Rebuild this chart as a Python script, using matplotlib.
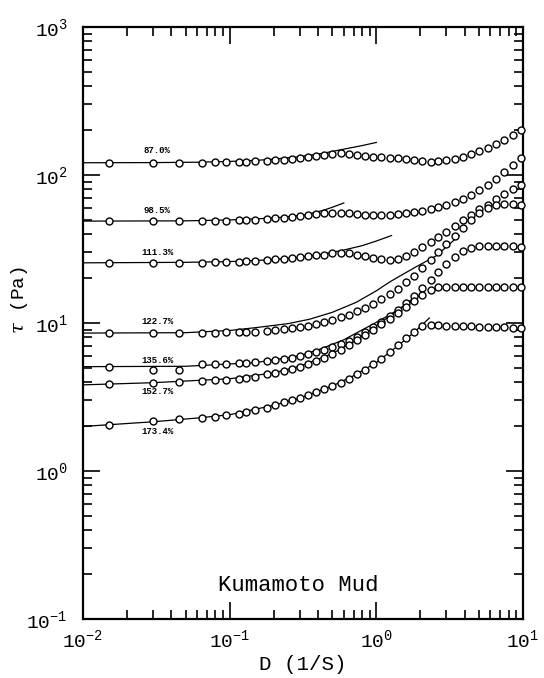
import matplotlib
matplotlib.use("Agg")
import matplotlib.pyplot as plt
from matplotlib.ticker import LogLocator, NullFormatter

# shear rate D (1/s) of the measured points
D = [0.015, 0.03, 0.045, 0.065, 0.08, 0.095, 0.115, 0.13, 0.15, 0.18,
     0.205, 0.235, 0.265, 0.3, 0.34, 0.39, 0.44, 0.5, 0.57, 0.65,
     0.74, 0.84, 0.95, 1.08, 1.23, 1.4, 1.6, 1.8, 2.05, 2.35,
     2.65, 3.0, 3.45, 3.9, 4.45, 5.05, 5.75, 6.55, 7.45, 8.5, 9.7]

# shear stress tau (Pa) for each water content
tau_870 = [121, 121, 121, 121, 122, 122, 122, 123, 124, 125,
           126, 127, 128, 130, 132, 134, 137, 139, 140, 139,
           137, 135, 133, 131.5, 131, 130, 129, 127, 125, 123,
           123.5, 125.5, 128.5, 132.5, 138, 145, 153, 162, 173, 186, 200]
tau_985 = [48.8, 48.8, 48.8, 49, 49, 49.2, 49.5, 49.8, 50, 50.5,
           51, 51.5, 52, 52.5, 53.5, 54.2, 55, 55.5, 55.5, 55,
           54.5, 54, 54, 54, 54, 54.5, 55, 56, 57.5, 59,
           60.5, 62.5, 65.5, 69, 73.5, 79, 86, 94, 104, 117, 131]
tau_1113 = [25.5, 25.5, 25.5, 25.6, 25.7, 25.8, 26, 26.1, 26.3, 26.6,
            26.9, 27.2, 27.5, 27.8, 28.2, 28.6, 29, 29.5, 29.8, 29.6,
            29, 28.3, 27.7, 27.1, 26.7, 27, 28.5, 30.3, 32.8, 35.5,
            38.3, 41.5, 45.5, 49.5, 54, 58.5, 63, 68.5, 74, 80, 86]
tau_1227 = [8.55, 8.55, 8.55, 8.6, 8.6, 8.65, 8.7, 8.7, 8.75, 8.85,
            8.95, 9.05, 9.2, 9.35, 9.55, 9.8, 10.1, 10.5, 10.9, 11.4,
            12, 12.7, 13.5, 14.5, 15.6, 17, 18.8, 20.8, 23.5, 26.8,
            30, 34, 39, 44, 50, 55.5, 60, 63, 64, 64, 63]
tau_1356 = [5.05, 4.85, 4.85, 5.25, 5.3, 5.3, 5.35, 5.4, 5.45, 5.5,
            5.6, 5.7, 5.8, 5.95, 6.15, 6.35, 6.6, 6.9, 7.25, 7.6,
            8.1, 8.7, 9.4, 10.2, 11.1, 12.3, 13.7, 15.2, 17.2, 19.6,
            22.2, 25, 28, 30.5, 32.2, 33, 33.3, 33.3, 33.2, 33, 32.8]
tau_1527 = [3.86, 3.94, 4.0, 4.07, 4.1, 4.15, 4.2, 4.27, 4.35, 4.5,
            4.6, 4.75, 4.9, 5.05, 5.25, 5.5, 5.8, 6.15, 6.6, 7.1,
            7.7, 8.3, 9.0, 9.8, 10.7, 11.7, 12.9, 14.1, 15.5, 16.8,
            17.4, 17.6, 17.6, 17.6, 17.6, 17.6, 17.6, 17.5, 17.5, 17.5, 17.5]
tau_1734 = [2.06, 2.17, 2.23, 2.29, 2.33, 2.38, 2.44, 2.5, 2.57, 2.68,
            2.8, 2.93, 3.03, 3.12, 3.25, 3.4, 3.56, 3.75, 3.95, 4.2,
            4.5, 4.85, 5.25, 5.75, 6.35, 7.05, 7.9, 8.7, 9.5, 9.7,
            9.65, 9.6, 9.55, 9.5, 9.5, 9.45, 9.4, 9.4, 9.35, 9.3, 9.25]

# model curves (D, tau)
fit_d_870 = [0.01, 0.03, 0.06, 0.1, 0.15, 0.2, 0.3, 0.43, 0.59, 0.8, 1.0]
fit_t_870 = [121, 121.3, 122, 123.5, 125.5, 128, 133, 140, 149, 158, 166]
fit_d_985 = [0.01, 0.05, 0.1, 0.2, 0.32, 0.43, 0.5, 0.6]
fit_t_985 = [48.8, 49, 49.7, 51.2, 53.6, 57.5, 60.5, 64.7]
fit_d_1113 = [0.01, 0.05, 0.1, 0.2, 0.3, 0.43, 0.59, 0.8, 1.0, 1.27]
fit_t_1113 = [25.5, 25.7, 26, 26.8, 27.8, 29.2, 31, 33.3, 35.8, 39]
fit_d_1227 = [0.01, 0.05, 0.1, 0.15, 0.25, 0.35, 0.5, 0.73, 1.0, 1.24, 1.8, 2.57, 3.67]
fit_t_1227 = [8.55, 8.6, 8.9, 9.3, 9.9, 10.6, 11.8, 13.8, 16.5, 19, 23.5, 28.5, 39]
fit_d_1356 = [0.01, 0.05, 0.15, 0.3, 0.43, 0.6, 0.73, 1.0, 1.24, 1.6, 2.0]
fit_t_1356 = [5.07, 5.1, 5.4, 6.0, 6.76, 7.7, 8.55, 10.1, 11.4, 13.3, 15.5]
fit_d_1527 = [0.01, 0.03, 0.1, 0.2, 0.3, 0.5, 0.7, 1.0, 1.4, 1.8]
fit_t_1527 = [3.82, 3.95, 4.2, 4.6, 5.1, 6.2, 7.5, 9.6, 12.2, 14.8]
fit_d_1734 = [0.01, 0.03, 0.06, 0.1, 0.2, 0.3, 0.5, 0.7, 1.0, 1.4, 1.8, 2.3]
fit_t_1734 = [2.0, 2.15, 2.28, 2.4, 2.78, 3.1, 3.75, 4.4, 5.4, 7.0, 8.6, 10.8]

labels = ["87.0%", "98.5%", "111.3%", "122.7%", "135.6%", "152.7%", "173.4%"]

series = [tau_870, tau_985, tau_1113, tau_1227, tau_1356, tau_1527, tau_1734]
fits = [(fit_d_870, fit_t_870), (fit_d_985, fit_t_985), (fit_d_1113, fit_t_1113),
        (fit_d_1227, fit_t_1227), (fit_d_1356, fit_t_1356),
        (fit_d_1527, fit_t_1527), (fit_d_1734, fit_t_1734)]
label_dy = [9, 8, 7.5, 8.5, 6.5, -6, -7.5]

plt.rcParams['font.family'] = ['Liberation Mono', 'DejaVu Sans Mono']
plt.rcParams['mathtext.fontset'] = 'custom'
plt.rcParams['mathtext.rm'] = 'Liberation Mono'
plt.rcParams['mathtext.it'] = 'DejaVu Serif:italic'
plt.rcParams['axes.unicode_minus'] = False

fig = plt.figure(figsize=(5.44, 6.78), dpi=100)
ax = fig.add_axes([83 / 544, 1 - 619 / 678, 440 / 544, 592 / 678])

for (fd, ft), tau in zip(fits, series):
    ax.plot(fd, ft, color='black', lw=0.9, zorder=2)
    ax.plot(D, tau, linestyle='none', marker='o', ms=5, mfc='white',
            mec='black', mew=1.0, zorder=3, clip_on=False)

# water content next to each curve
for lab, tau, dy in zip(labels, series, label_dy):
    ax.annotate(lab, xy=(0.032, tau[1]), xytext=(0, dy), textcoords='offset points',
                ha='center', va='center', fontsize=6.5, fontweight='bold')

ax.set_xscale('log')
ax.set_yscale('log')
ax.set_xlim(1e-2, 1e1)
ax.set_ylim(1e-1, 1e3)

for a in (ax.xaxis, ax.yaxis):
    a.set_major_locator(LogLocator(base=10, numticks=10))
    a.set_minor_locator(LogLocator(base=10, subs=range(2, 10), numticks=20))
    a.set_minor_formatter(NullFormatter())

ax.tick_params(which='both', direction='in', top=True, right=True, width=1.2)
ax.tick_params(which='major', length=12, labelsize=14)
ax.tick_params(axis='y', which='major', pad=11)
ax.tick_params(axis='x', which='major', pad=7)
ax.tick_params(which='minor', length=6.5)
for s in ax.spines.values():
    s.set_linewidth(1.6)

ax.text(0.49, 0.056, "Kumamoto Mud", transform=ax.transAxes, ha='center',
        va='center', fontsize=16)
fig.text(303 / 544, 1 - 665 / 678, "D (1/S)", ha='center', va='center', fontsize=15)
fig.text(20 / 544, 1 - 300 / 678, r"$\tau$ (Pa)", ha='center', va='center',
         rotation=90, fontsize=14)

fig.savefig("out.png", dpi=100)
